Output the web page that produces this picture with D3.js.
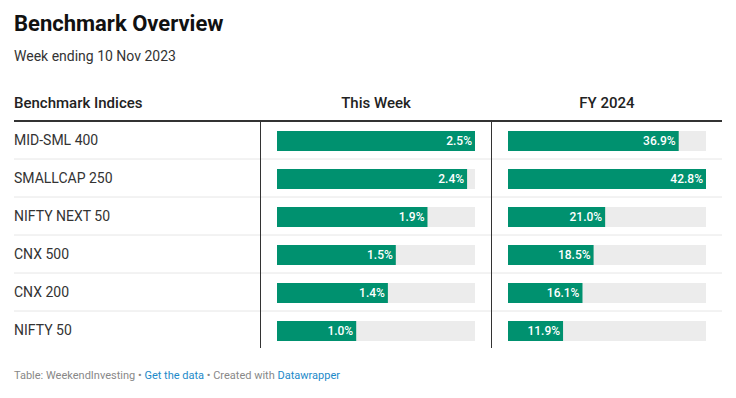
<!DOCTYPE html>
<html>
<head>
<meta charset="utf-8">
<script src="https://cdn.jsdelivr.net/npm/d3@7"></script>
<style>
  body { margin: 0; background: #fff; font-family: Roboto, sans-serif; }
  svg text { font-family: Roboto, sans-serif; }
</style>
</head>
<body>
<svg id="chart" width="736" height="398"></svg>
<script>
const indices = ['MID-SML 400', 'SMALLCAP 250', 'NIFTY NEXT 50', 'CNX 500', 'CNX 200', 'NIFTY 50'];
const thisWeek = [2.5, 2.4, 1.9, 1.5, 1.4, 1.0];
const fy2024 = [36.9, 42.8, 21.0, 18.5, 16.1, 11.9];
const columns = ['This Week', 'FY 2024'];

const svg = d3.select('#chart');
const left = 14, right = 722;
const tableTop = 121, rowH = 38;
const barColor = '#00916f', trackColor = '#ececec';

svg.append('text').attr('x', left).attr('y', 31)
  .attr('font-size', 22).attr('font-weight', 700).attr('fill', '#111')
  .text('Benchmark Overview');
svg.append('text').attr('x', left).attr('y', 61)
  .attr('font-size', 14).attr('fill', '#333')
  .text('Week ending 10 Nov 2023');

// header
svg.append('text').attr('x', left).attr('y', 108)
  .attr('font-size', 15).attr('font-weight', 500).attr('fill', '#222')
  .text('Benchmark Indices');

const y = d3.scaleBand().domain(indices).range([tableTop, tableTop + rowH * indices.length]);

const cols = [
  {name: columns[0], values: thisWeek, x0: 277, sep: 260},
  {name: columns[1], values: fy2024, x0: 508, sep: 491},
];
const barW = 198;

// row separators
svg.selectAll('.sep').data(indices.slice(1)).enter().append('line')
  .attr('x1', left).attr('x2', right)
  .attr('y1', d => y(d)).attr('y2', d => y(d))
  .attr('stroke', '#e6e6e6').attr('stroke-width', 1);

svg.selectAll('.rowlabel').data(indices).enter().append('text')
  .attr('x', left).attr('y', d => y(d) + y.bandwidth() / 2)
  .attr('dy', '0.35em').attr('font-size', 14).attr('fill', '#333')
  .text(d => d);

cols.forEach(c => {
  const x = d3.scaleLinear().domain([0, d3.max(c.values)]).range([c.x0, c.x0 + barW]);
  svg.append('text').attr('x', c.x0 + barW / 2).attr('y', 108)
    .attr('text-anchor', 'middle').attr('font-size', 15).attr('font-weight', 500).attr('fill', '#222')
    .text(c.name);
  svg.append('line').attr('x1', c.sep + 0.5).attr('x2', c.sep + 0.5)
    .attr('y1', tableTop).attr('y2', tableTop + rowH * indices.length - 1)
    .attr('stroke', '#333').attr('stroke-width', 1);
  const g = svg.append('g');
  const rows = g.selectAll('g').data(indices).enter().append('g');
  rows.append('rect').attr('x', x(0)).attr('y', d => y(d) + 10)
    .attr('width', barW).attr('height', 20).attr('fill', trackColor);
  rows.append('rect').attr('x', x(0)).attr('y', d => y(d) + 10)
    .attr('width', (d, i) => x(c.values[i]) - x(0)).attr('height', 20).attr('fill', barColor);
  rows.append('text').attr('x', (d, i) => x(c.values[i]) - 3).attr('y', d => y(d) + 20)
    .attr('dy', '0.35em').attr('text-anchor', 'end').attr('font-size', 12).attr('font-weight', 500)
    .attr('fill', '#fff')
    .text((d, i) => c.values[i].toFixed(1) + '%');
});

// header rule
svg.append('line').attr('x1', left).attr('x2', right)
  .attr('y1', tableTop).attr('y2', tableTop)
  .attr('stroke', '#333').attr('stroke-width', 2);

// footer
const foot = svg.append('text').attr('x', left).attr('y', 379).attr('font-size', 11).attr('fill', '#888');
foot.append('tspan').text('Table: WeekendInvesting • ');
foot.append('tspan').attr('fill', '#1d8ac9').text('Get the data');
foot.append('tspan').text(' • Created with ');
foot.append('tspan').attr('fill', '#1d8ac9').text('Datawrapper');
</script>
</body>
</html>
